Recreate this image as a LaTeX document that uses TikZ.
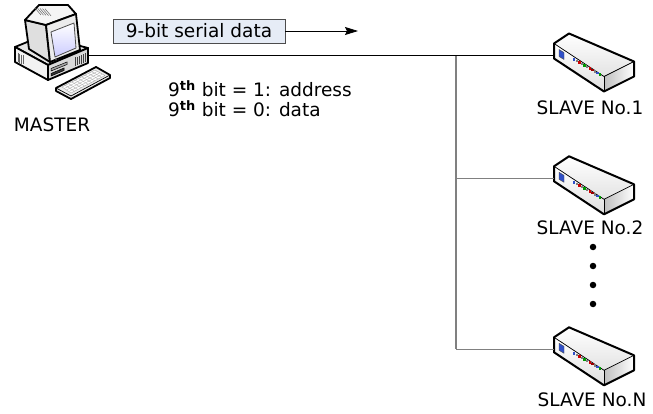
\documentclass[tikz,border=0pt]{standalone}
\usepackage{fontspec}
\setmainfont{DejaVu Sans}
\usetikzlibrary{arrows.meta,shadings,calc}
\definecolor{boxblue}{HTML}{E6ECF6}
\definecolor{busgray}{HTML}{808080}
\definecolor{ledblue}{HTML}{3050C8}
\tikzset{
  outl/.style={draw=black, line width=1.8pt, line join=round},
  thinl/.style={draw=black, line width=0.7pt, line join=round},
  lbl/.style={font=\fontsize{18.5}{22}\selectfont, inner sep=0pt},
  bus/.style={draw=black, line width=1pt},
  branch/.style={draw=busgray, line width=1.3pt},
  dotn/.style={circle, fill=black, inner sep=0pt, minimum size=6.5pt},
}
\newcommand\mySlaveBox[2]{%
  \begin{scope}[shift={(#1,#2)}]
    \fill[top color=white, bottom color=gray!22] (1,-12) -- (16,-22) -- (81,6) -- (51,21) -- cycle;
    \fill[top color=white, bottom color=gray!25] (1,-12) -- (51,21) -- (51,36) -- (1,3) -- cycle;
    \fill[left color=gray!50, right color=white] (51,21) -- (81,6) -- (81,21) -- (51,36) -- cycle;
    \draw[thinl] (1,-12) -- (51,21) -- (81,6);
    \draw[thinl] (51,21) -- (51,36);
    \draw[outl, line width=2pt] (1,-12) -- (16,-22) -- (81,6) -- (81,21) -- (51,36) -- (1,3) -- cycle;
    \filldraw[fill=ledblue, draw=black!70, line width=0.4pt] (6,-6) -- (11,-3) -- (11,4) -- (6,1) -- cycle;
    \foreach \i/\c in {0/ledblue,1/gray,2/red!80!black,3/gray,4/green!60!black,5/gray,6/red!80!black,7/red!60!black,8/gray,9/ledblue,10/green!60!black}{
      \fill[\c] ({20+2.6*\i},{3+1.5*\i}) rectangle ++(2.3,2.3);
    }
  \end{scope}%
}
\begin{document}
\begin{tikzpicture}[x=1pt,y=-1pt]
\path[use as bounding box, fill=white] (0,0) rectangle (653,414);

% ---------- MASTER computer ----------
\node[inner sep=0pt, minimum width=104pt, minimum height=96pt] (master) at (63,53) {};
% CPU case
\filldraw[outl, fill=gray!20] (15,47) -- (42,36) -- (88,48) -- (48,65) -- cycle;
\filldraw[outl, fill=gray!10] (15,47) -- (48,65) -- (48,80) -- (15,62) -- cycle;
\foreach \i in {0,...,3}{
  \draw[black!60, line width=0.5pt] ({18+1.6*\i},{53+0.8*\i}) -- ({18+1.6*\i},{62+0.8*\i});
}
\filldraw[outl, fill=gray!30] (48,65) -- (88,48) -- (88,63) -- (48,80) -- cycle;
\filldraw[fill=gray!70, draw=black, line width=0.5pt] (51,68.5) -- (67,62) -- (67,64.5) -- (51,71) -- cycle;
\filldraw[fill=black!80, draw=black, line width=0.5pt] (51,73.5) -- (64,68) -- (64,70.5) -- (51,76) -- cycle;
\foreach \i in {0,...,5}{
  \draw[black!75, line width=0.5pt] ({75+2*\i},{57.5-0.8*\i}) -- ({75+2*\i},{66-0.8*\i});
}
% monitor
\filldraw[outl, fill=gray!25] (25,20) -- (46,25) -- (50,62) -- (29,49) -- cycle;
\filldraw[outl, fill=gray!8] (25,20) -- (39,5) -- (68,5) -- (76,14) -- (46,25) -- cycle;
\foreach \i in {0,...,4}{
  \draw[black!60, line width=0.5pt] ({35+2.5*\i},{8+0.2*\i}) -- ({41+2.5*\i},{15+0.2*\i});
}
\filldraw[outl, fill=gray!15] (46,25) -- (76,14) -- (80,50) -- (50,62) -- cycle;
\shade[top color=white, bottom color=blue!20] (51,32) -- (74,23) -- (76,48) -- (55,57) -- cycle;
\draw[black!70, line width=0.8pt, line join=round] (51,32) -- (74,23) -- (76,48) -- (55,57) -- cycle;
\fill[black!70] (56,59.5) circle (1pt);
% keyboard
\filldraw[outl, fill=gray!15] (56,88) -- (96,67) -- (110,75) -- (110,78) -- (71,99) -- (56,91) -- cycle;
\draw[thinl] (56,88) -- (71,96) -- (110,75);
\filldraw[fill=white, draw=gray!70, line width=0.4pt] (62,87) -- (95,70) -- (105,75.5) -- (71,93) -- cycle;
\foreach \t in {0.25,0.5,0.75}{
  \draw[gray!60, line width=0.4pt] ($(62,87)!\t!(71,93)$) -- ($(95,70)!\t!(105,75.5)$);
}
\foreach \t in {0.1,0.2,...,0.9}{
  \draw[gray!60, line width=0.4pt] ($(62,87)!\t!(95,70)$) -- ($(71,93)!\t!(105,75.5)$);
}
\node[lbl] (mlabel) at (52,125) {MASTER};

% ---------- SLAVES ----------
\mySlaveBox{553}{55.5}
\mySlaveBox{553}{178.3}
\mySlaveBox{553}{349.3}
\node[inner sep=0pt, minimum width=80pt, minimum height=57pt] (s1) at (593,61) {};
\node[inner sep=0pt, minimum width=80pt, minimum height=57pt] (s2) at (593,184) {};
\node[inner sep=0pt, minimum width=80pt, minimum height=57pt] (s3) at (593,355) {};
\node[lbl] (l1) at (590,108) {SLAVE No.1};
\node[lbl] (l2) at (590,228) {SLAVE No.2};
\node[lbl] (l3) at (592,400) {SLAVE No.N};
\node[dotn] (d1) at (593,247) {};
\node[dotn] (d2) at (593,266) {};
\node[dotn] (d3) at (593,285) {};
\node[dotn] (d4) at (593,304) {};

% ---------- bus ----------
\coordinate (mout) at (88,55.5);
\coordinate (j1) at (456,55.5);
\coordinate (j2) at (456,178.3);
\coordinate (j3) at (456,349.3);
\coordinate (s1in) at (554,55.5);
\coordinate (s2in) at (554,178.3);
\coordinate (s3in) at (554,349.3);
\draw[branch] (j1) -- (j3);
\draw[branch] (j2) -- (s2in);
\draw[branch] (j3) -- (s3in);
\draw[bus] (mout) -- (j1) -- (s1in);

% ---------- labels ----------
\node[lbl, draw=black!70, line width=0.8pt, fill=boxblue, minimum width=172pt, minimum height=24pt] (data) at (199,31) {9-bit serial data};
\coordinate (aend) at (358,31);
\draw[black, line width=0.8pt, -{Stealth[length=13pt,width=8pt,inset=2pt]}] (data.east) -- (aend);
\node[lbl, anchor=base west] (t1) at (168,96.5) {9\textsuperscript{\bfseries th} bit = 1: address};
\node[lbl, anchor=base west] (t2) at (168,116.5) {9\textsuperscript{\bfseries th} bit = 0: data};
\end{tikzpicture}
\end{document}
